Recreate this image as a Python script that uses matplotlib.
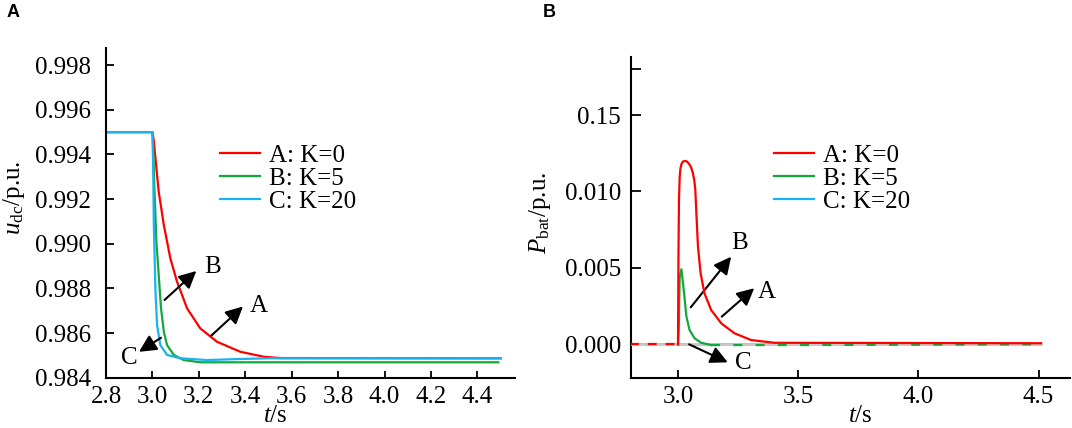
import matplotlib
matplotlib.use("Agg")
import matplotlib.pyplot as plt

plt.rcParams["font.family"] = ["Liberation Serif", "DejaVu Serif"]
plt.rcParams["mathtext.fontset"] = "custom"
plt.rcParams["mathtext.rm"] = "Liberation Serif"
plt.rcParams["mathtext.it"] = "Liberation Serif:italic"

# --- panel A: DC voltage ---
t_a = [2.8, 3.0, 3.006, 3.013, 3.027, 3.049, 3.077, 3.106, 3.149, 3.206, 3.278,
       3.379, 3.479, 3.55, 4.5]
u_a = [0.995, 0.995, 0.9946, 0.99382, 0.99233, 0.99084, 0.98935, 0.9883, 0.98711,
       0.98621, 0.98561, 0.98516, 0.98494, 0.98488, 0.98487]
t_b = [2.8, 3.0, 3.004, 3.009, 3.017, 3.027, 3.037, 3.049, 3.063, 3.092, 3.135,
       3.206, 4.49]
u_b = [0.995, 0.995, 0.9940, 0.99233, 0.99009, 0.9886, 0.98711, 0.98606, 0.98546,
       0.98502, 0.98479, 0.98469, 0.98469]
t_c = [2.8, 3.0, 3.003, 3.006, 3.013, 3.02, 3.034, 3.063, 3.12, 3.235, 3.35,
       3.5, 4.5]
u_c = [0.995, 0.995, 0.9935, 0.99084, 0.98785, 0.98636, 0.98546, 0.98502,
       0.98487, 0.98479, 0.98483, 0.98487, 0.98487]
ticks_a_x = [2.8, 3.0, 3.2, 3.4, 3.6, 3.8, 4.0, 4.2, 4.4]
ticks_a_y = [0.984, 0.986, 0.988, 0.990, 0.992, 0.994, 0.996, 0.998]

# --- panel B: battery power ---
tp_a = [2.8, 3.0, 3.002, 3.004, 3.007, 3.010, 3.014, 3.020, 3.028, 3.036, 3.044,
        3.054, 3.062, 3.068, 3.072, 3.077, 3.083, 3.094, 3.11, 3.138, 3.18, 3.235,
        3.304, 3.4, 4.51]
p_a = [0.0, 0.0, 0.0060, 0.0095, 0.01097, 0.01150, 0.01178, 0.01195, 0.0120,
       0.01197, 0.01185, 0.01160, 0.01119, 0.01070, 0.0101, 0.00835, 0.00639,
       0.00465, 0.00334, 0.00224, 0.00137, 0.00072, 0.00028, 0.0001, 0.00007]
tp_b = [2.8, 3.0, 3.003, 3.007, 3.014, 3.021, 3.028, 3.035, 3.048, 3.069, 3.097,
        3.138, 3.45, 4.51]
p_b = [0.0, 0.0, 0.0010, 0.00442, 0.00491, 0.00399, 0.0029, 0.00181, 0.00094,
       0.00039, 0.0001, -0.00005, -0.00005, 0.0]
tp_c = [2.8, 3.05, 3.055, 3.083, 3.088, 4.51]
p_c = [0.0, 0.0, -0.00004, -0.00004, 0.0, 0.0]
ticks_b_x = [3.0, 3.5, 4.0, 4.5]
ticks_b_y = [0.0, 0.005, 0.010, 0.015, 0.018]
labels_b_y = ["0.000", "0.005", "0.010", "0.15", ""]

RED, GREEN, BLUE = "#ff0000", "#14a83c", "#1ab2f0"
FS = 18
LW = 1.6

fig = plt.figure(figsize=(10.72, 4.28), dpi=100)
ax1 = fig.add_axes([0.0989, 0.1175, 0.48 - 0.0989, 0.887 - 0.1175])
ax2 = fig.add_axes([0.5883, 0.1175, 0.998 - 0.5883, 0.8675 - 0.1175])

arrow = dict(arrowstyle="-|>", mutation_scale=26, lw=1.5, color="black",
             shrinkA=0, shrinkB=0)

# panel A
ax1.plot(t_a, u_a, color=RED, lw=LW, label="A: K=0")
ax1.plot(t_b, u_b, color=GREEN, lw=LW, label="B: K=5")
ax1.plot(t_c, u_c, color=BLUE, lw=LW, label="C: K=20")
ax1.set_xlim(2.8, 4.56)
ax1.set_ylim(0.984, 0.99875)
ax1.set_xticks(ticks_a_x)
ax1.set_xticklabels([f"{v:.1f}" for v in ticks_a_x])
ax1.set_yticks(ticks_a_y)
ax1.set_yticklabels([f"{v:.3f}" for v in ticks_a_y])
ax1.tick_params(axis="y", direction="in", length=6, width=1.3, labelsize=FS, pad=11)
ax1.tick_params(axis="x", direction="in", length=5, width=1.3, labelsize=FS, pad=6)
ax1.set_xlabel(r"$t$/s", fontsize=FS)
ax1.xaxis.set_label_coords(0.414, -0.082)
ax1.set_ylabel(r"$u_{\mathrm{dc}}$/p.u.", fontsize=FS)
ax1.yaxis.set_label_coords(-0.194, 0.546)
ax1.annotate("", xy=(3.189, 0.98878), xytext=(3.052, 0.98748), arrowprops=arrow)
ax1.annotate("", xy=(3.39, 0.98719), xytext=(3.254, 0.98589), arrowprops=arrow)
ax1.annotate("", xy=(2.942, 0.98516), xytext=(3.037, 0.98579), arrowprops=arrow)
ax1.text(3.221, 0.98897, "B", fontsize=FS, va="center", ha="left")
ax1.text(3.421, 0.98719, "A", fontsize=FS, va="center", ha="left")
ax1.text(2.901, 0.98488, "C", fontsize=FS, va="center", ha="center")
ax1.legend(loc="upper left", bbox_to_anchor=(0.2052, 0.6635),
           bbox_transform=fig.transFigure, frameon=False, fontsize=FS,
           handlelength=1.6, handletextpad=0.36, labelspacing=0.02,
           borderpad=0, borderaxespad=0)

# panel B
ax2.plot(tp_a[:2], p_a[:2], color=RED, lw=LW, dashes=(4, 4), zorder=4)
ax2.plot(tp_c, p_c, color=BLUE, lw=LW, zorder=2)
ax2.plot([tp_a[0], tp_a[-1]], [0, 0], color="#c8c8c8", lw=1.9, zorder=3)
ax2.plot(tp_b[1:-2], p_b[1:-2], color=GREEN, lw=LW, zorder=4)
ax2.plot(tp_b[-3:], p_b[-3:], color=GREEN, lw=LW, dashes=(4, 6), zorder=4)
ax2.plot(tp_a[1:], p_a[1:], color=RED, lw=LW, zorder=5)
ax2.set_xlim(2.803, 4.63)
ax2.set_ylim(-0.002186, 0.01882)
ax2.set_xticks(ticks_b_x)
ax2.set_xticklabels([f"{v:.1f}" for v in ticks_b_x])
ax2.set_yticks(ticks_b_y)
ax2.set_yticklabels(labels_b_y)
ax2.tick_params(axis="y", direction="in", length=7, width=1.3, labelsize=FS, pad=7)
ax2.tick_params(axis="x", direction="in", length=6, width=1.3, labelsize=FS, pad=6)
ax2.set_xlabel(r"$t$/s", fontsize=FS)
ax2.xaxis.set_label_coords(0.523, -0.085)
ax2.set_ylabel(r"$P_{\mathrm{bat}}$/p.u.", fontsize=FS)
ax2.yaxis.set_label_coords(-0.176, 0.513)
ax2.annotate("", xy=(3.221, 0.00573), xytext=(3.053, 0.00242), arrowprops=arrow)
ax2.annotate("", xy=(3.317, 0.00367), xytext=(3.182, 0.00181), arrowprops=arrow)
ax2.annotate("", xy=(3.207, -0.00118), xytext=(3.046, 0.0), arrowprops=arrow)
ax2.text(3.221, 0.00661, "B", fontsize=FS, va="center", ha="left")
ax2.text(3.331, 0.00344, "A", fontsize=FS, va="center", ha="left")
ax2.text(3.239, -0.00124, "C", fontsize=FS, va="center", ha="left")
ax2.legend(handles=[plt.Line2D([], [], color=c, lw=LW) for c in (RED, GREEN, BLUE)],
           labels=["A: K=0", "B: K=5", "C: K=20"],
           loc="upper left", bbox_to_anchor=(0.722, 0.6635),
           bbox_transform=fig.transFigure, frameon=False, fontsize=FS,
           handlelength=1.6, handletextpad=0.36, labelspacing=0.02,
           borderpad=0, borderaxespad=0)

for ax in (ax1, ax2):
    ax.spines["top"].set_visible(False)
    ax.spines["right"].set_visible(False)
    ax.spines["left"].set_linewidth(1.5)
    ax.spines["bottom"].set_linewidth(1.5)

fig.text(0.0065, 0.99, "A", family="Liberation Sans", weight="bold", fontsize=13,
         va="top", ha="left")
fig.text(0.5065, 0.99, "B", family="Liberation Sans", weight="bold", fontsize=13,
         va="top", ha="left")

fig.savefig("out.png", dpi=100)
